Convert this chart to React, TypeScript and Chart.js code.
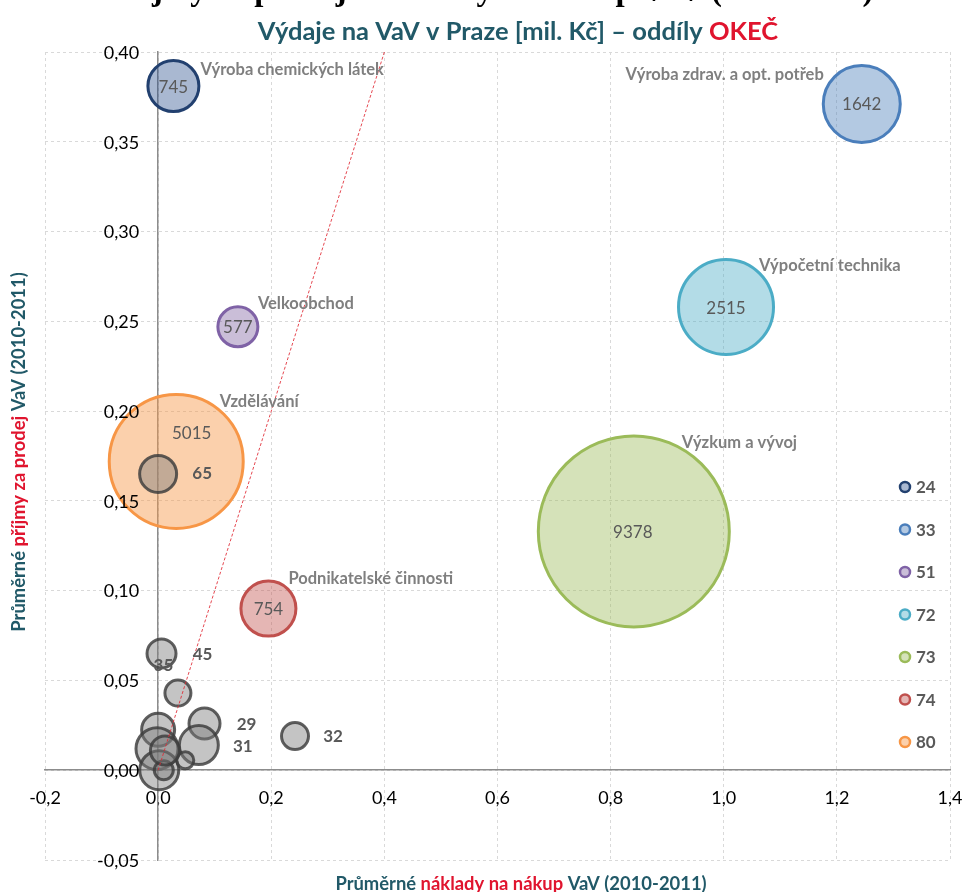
import React, { useEffect, useRef } from 'react';
import { Chart, registerables } from 'chart.js';

Chart.register(...registerables);

// ---------- DATA ----------
const sectorCodes = ['24', '33', '51', '72', '73', '74', '80'];
const sectorNames = [
  'Výroba chemických látek',
  'Výroba zdrav. a opt. potřeb',
  'Velkoobchod',
  'Výpočetní technika',
  'Výzkum a vývoj',
  'Podnikatelské činnosti',
  'Vzdělávání',
];
const sectorSpend = [745, 1642, 577, 2515, 9378, 754, 5015];
const sectorCost = [0.027, 1.244, 0.141, 1.004, 0.841, 0.195, 0.032];
const sectorRevenue = [0.381, 0.371, 0.247, 0.258, 0.133, 0.09, 0.172];
const sectorBubble = [25.5, 38.5, 20, 47.5, 95.5, 27.5, 67];

const otherCodes = ['65', '45', '35', '29', '31', '32', '', '', '', '', '', ''];
const otherCost = [0.0, 0.006, 0.035, 0.082, 0.072, 0.242, 0.0, -0.002, 0.002, 0.01, 0.048, 0.012];
const otherRevenue = [0.165, 0.065, 0.043, 0.026, 0.014, 0.019, 0.0225, 0.012, 0.0, 0.0, 0.0055, 0.011];
const otherBubble = [18.5, 14.5, 13, 15.5, 19.5, 13.5, 16.5, 21, 19.5, 9.5, 8.5, 14.5];

const parityX = [0, 0.4];
const parityY = [0, 0.4];

const xMin = -0.2;
const xMax = 1.4;
const xStep = 0.2;
const yMin = -0.05;
const yMax = 0.4;
const yStep = 0.05;

const titleText = 'Výdaje na VaV v Praze [mil. Kč] – oddíly ';
const titleRed = 'OKEČ';
const captionText = 'Příjmy za prodej a náklady na nákup VaV (2010-2011)';
const xTitleParts = ['Průměrné ', 'náklady na nákup', ' VaV (2010-2011)'];
const yTitleParts = ['Průměrné ', 'příjmy za prodej', ' VaV (2010-2011)'];

// ---------- STYLE / LAYOUT ----------
const sectorBorder = ['#22406F', '#4A7EBB', '#7F62A6', '#4BACC6', '#9BBB59', '#C0504D', '#F79646'];
const sectorFill = [
  'rgba(40,78,140,0.40)',
  'rgba(74,126,187,0.42)',
  'rgba(128,100,162,0.42)',
  'rgba(75,172,198,0.42)',
  'rgba(155,187,89,0.42)',
  'rgba(192,80,77,0.42)',
  'rgba(247,150,70,0.45)',
];
const TEAL = '#215968';
const RED = '#E0142E';
const FONT = 'Lato, "Open Sans", sans-serif';

const nameOffset: [number, number, CanvasTextAlign][] = [
  [27, -16.5, 'left'],
  [-38, -29.5, 'right'],
  [20, -23, 'left'],
  [33, -41, 'left'],
  [48, -89, 'left'],
  [20, -30, 'left'],
  [43.5, -60, 'left'],
];
const valueOffset: [number, number][] = [
  [0, 1.5], [0, 0.5], [0, 1], [0, 2], [-1, 1], [0, 1], [15.5, -28],
];
const otherOffset: [number, number][] = [
  [44, 0], [41, 1.5], [-14.5, -27], [42, 1], [44, 1], [38, 0],
  [0, 0], [0, 0], [0, 0], [0, 0], [0, 0], [0, 0],
];

function fmt(v: number, d: number) {
  const n = Math.abs(v) < 1e-9 ? 0 : v;
  return n.toFixed(d).replace('.', ',');
}

function drawRich(ctx: CanvasRenderingContext2D, parts: { t: string; c: string }[], cx: number, cy: number) {
  const widths = parts.map((p) => ctx.measureText(p.t).width);
  const total = widths.reduce((a, b) => a + b, 0);
  let x = cx - total / 2;
  ctx.textAlign = 'left';
  ctx.textBaseline = 'middle';
  parts.forEach((p, i) => {
    ctx.fillStyle = p.c;
    ctx.fillText(p.t, x, cy);
    x += widths[i];
  });
}

function zeroFit(scale: any) {
  scale.paddingLeft = 0;
  scale.paddingRight = 0;
  scale.paddingTop = 0;
  scale.paddingBottom = 0;
  if (scale.isHorizontal()) scale.height = 0;
  else scale.width = 0;
}

const overlayPlugin = {
  id: 'overlay',
  afterDatasetsDraw(chart: any) {
    const ctx: CanvasRenderingContext2D = chart.ctx;
    ctx.save();
    const sMeta = chart.getDatasetMeta(2);
    sMeta.data.forEach((el: any, i: number) => {
      ctx.textBaseline = 'middle';
      ctx.font = `bold 16.5px ${FONT}`;
      ctx.fillStyle = '#7F7F7F';
      ctx.textAlign = nameOffset[i][2];
      ctx.fillText(sectorNames[i], el.x + nameOffset[i][0], el.y + nameOffset[i][1]);
      ctx.font = `17px ${FONT}`;
      ctx.fillStyle = '#595959';
      ctx.textAlign = 'center';
      ctx.fillText(String(sectorSpend[i]), el.x + valueOffset[i][0], el.y + valueOffset[i][1]);
    });
    const oMeta = chart.getDatasetMeta(1);
    oMeta.data.forEach((el: any, i: number) => {
      if (!otherCodes[i]) return;
      ctx.font = `bold 17px ${FONT}`;
      ctx.fillStyle = '#595959';
      ctx.textAlign = 'center';
      ctx.textBaseline = 'middle';
      ctx.fillText(otherCodes[i], el.x + otherOffset[i][0], el.y + otherOffset[i][1]);
    });
    ctx.restore();
  },
  afterDraw(chart: any) {
    const ctx: CanvasRenderingContext2D = chart.ctx;
    ctx.save();
    // y tick labels, left of the y axis which crosses at x = 0
    const ys = chart.scales.y;
    const xs = chart.scales.x;
    const axisX = xs.getPixelForValue(0);
    ctx.font = `18px ${FONT}`;
    ctx.fillStyle = '#000';
    ctx.textAlign = 'right';
    ctx.textBaseline = 'middle';
    ys.ticks.forEach((t: any) => {
      ctx.fillText(fmt(t.value, 2), axisX - 19, ys.getPixelForValue(t.value) + 1);
    });

    // cropped caption at very top (only descenders are visible)
    ctx.font = `bold 30px "Liberation Serif", serif`;
    const jIdx = captionText.indexOf('j');
    const pre = ctx.measureText(captionText.slice(0, jIdx)).width;
    const full = ctx.measureText(captionText).width;
    const fs = (30 * 722) / (full - pre);
    ctx.font = `bold ${fs}px "Liberation Serif", serif`;
    const pre2 = ctx.measureText(captionText.slice(0, jIdx)).width;
    ctx.fillStyle = '#000';
    ctx.textAlign = 'left';
    ctx.textBaseline = 'alphabetic';
    ctx.fillText(captionText, 152 - pre2, 0);

    // main title
    ctx.font = `bold 25.5px ${FONT}`;
    drawRich(ctx, [{ t: titleText, c: TEAL }, { t: titleRed, c: RED }], 518, 32);

    // x axis title
    ctx.font = `bold 18.4px ${FONT}`;
    drawRich(ctx, [
      { t: xTitleParts[0], c: TEAL },
      { t: xTitleParts[1], c: RED },
      { t: xTitleParts[2], c: TEAL },
    ], 521, 884);

    // y axis title
    ctx.save();
    ctx.translate(19, 452);
    ctx.rotate(-Math.PI / 2);
    drawRich(ctx, [
      { t: yTitleParts[0], c: TEAL },
      { t: yTitleParts[1], c: RED },
      { t: yTitleParts[2], c: TEAL },
    ], 0, 0);
    ctx.restore();

    // legend
    sectorCodes.forEach((code, i) => {
      const y = 487 + i * 42.5;
      ctx.beginPath();
      ctx.arc(905, y, 5, 0, Math.PI * 2);
      ctx.fillStyle = '#fff';
      ctx.fill();
      ctx.fillStyle = sectorFill[i];
      ctx.fill();
      ctx.lineWidth = 2.5;
      ctx.strokeStyle = sectorBorder[i];
      ctx.stroke();
      ctx.font = `bold 17px ${FONT}`;
      ctx.fillStyle = '#595959';
      ctx.textAlign = 'left';
      ctx.textBaseline = 'middle';
      ctx.fillText(code, 916, y + 1);
    });
    ctx.restore();
  },
};

export default function App() {
  const ref = useRef<HTMLCanvasElement>(null);
  useEffect(() => {
    const canvas = ref.current;
    if (!canvas) return;
    const chart = new Chart(canvas, {
      type: 'bubble',
      data: {
        datasets: [
          {
            type: 'line',
            data: parityX.map((x, i) => ({ x, y: parityY[i] })),
            borderColor: 'rgba(225,40,50,0.85)',
            borderWidth: 1,
            borderDash: [3, 2],
            pointRadius: 0,
            fill: false,
            order: 0,
          } as any,
          {
            data: otherCost.map((x, i) => ({ x, y: otherRevenue[i], r: otherBubble[i] })),
            backgroundColor: 'rgba(125,125,125,0.45)',
            borderColor: 'rgba(60,60,60,0.82)',
            borderWidth: 3,
            order: 1,
          },
          {
            data: sectorCost.map((x, i) => ({ x, y: sectorRevenue[i], r: sectorBubble[i] })),
            backgroundColor: sectorFill,
            borderColor: sectorBorder,
            borderWidth: 3,
            order: 2,
          },
        ],
      },
      options: {
        animation: false,
        responsive: false,
        devicePixelRatio: 1,
        layout: { autoPadding: false, padding: { left: 45, top: 52, right: 13, bottom: 32 } },
        plugins: {
          legend: { display: false },
          tooltip: { enabled: false },
          title: { display: false },
        },
        scales: {
          x: {
            type: 'linear',
            min: xMin,
            max: xMax,
            position: { y: 0 } as any,
            afterFit: zeroFit,
            ticks: {
              stepSize: xStep,
              callback: (v: any) => fmt(Number(v), 1),
              color: '#000',
              font: { family: FONT, size: 18 },
              padding: 17,
            },
            grid: { color: '#D9D9D9', lineWidth: 1, drawTicks: false },
            border: { display: true, color: '#8C8C8C', width: 1.5, dash: [3, 3] },
          },
          y: {
            type: 'linear',
            min: yMin,
            max: yMax,
            position: { x: 0 } as any,
            afterFit: zeroFit,
            ticks: {
              stepSize: yStep,
              display: false,
            },
            grid: { color: '#D9D9D9', lineWidth: 1, drawTicks: false },
            border: { display: true, color: '#8C8C8C', width: 1.5, dash: [3, 3] },
          },
        },
      },
      plugins: [overlayPlugin],
    });
    return () => chart.destroy();
  }, []);
  return (
    <div style={{ position: 'absolute', left: 0, top: 0, width: 963, height: 892, background: '#fff' }}>
      <canvas ref={ref} width={963} height={892} style={{ width: 963, height: 892, display: 'block' }} />
    </div>
  );
}
